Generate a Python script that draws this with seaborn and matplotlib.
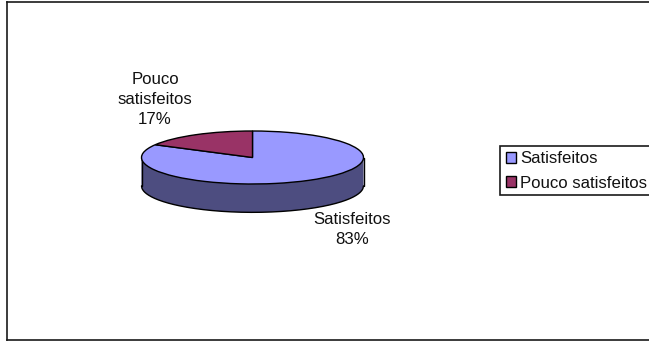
import numpy as np
import matplotlib
matplotlib.use("Agg")
import matplotlib.pyplot as plt
from matplotlib.patches import Rectangle
import seaborn as sns

categories = ["Satisfeitos", "Pouco satisfeitos"]
values = [83, 17]
colors = ["#9999FF", "#993366"]
wall_color = "#4D4D80"
pie_label_lines = ["Satisfeitos\n83%", "Pouco\nsatisfeitos\n17%"]

sns.set_theme(style="white")
plt.rcParams["font.family"] = ["Liberation Sans", "DejaVu Sans"]

W, H = 649, 341
fig = plt.figure(figsize=(W / 100, H / 100), dpi=100, facecolor="white")

# Chart frame (right edge runs off the image)
frame = fig.add_axes([7 / W, 1 - 340 / H, 1.0, 338 / H])
frame.set_xticks([]); frame.set_yticks([])
for s in frame.spines.values():
    s.set_color("#1a1a1a"); s.set_linewidth(1.2)

# Squashed "3D" pie: axes box equals the top ellipse
cx, cy, rx, ry = 252.5, 157.5, 111, 26.5
ax = fig.add_axes([(cx - rx) / W, 1 - (cy + ry) / H, 2 * rx / W, 2 * ry / H])
ax.patch.set_alpha(0)
depth = 1.07
x = np.linspace(-1, 1, 400)
lower = -np.sqrt(1 - x ** 2)
ax.fill_between(x, lower - depth, 0, color=wall_color, ec="none", clip_on=False, zorder=1)
ax.plot(x, lower - depth, color="black", lw=1, clip_on=False, zorder=2)
ax.plot([-1, -1], [0, -depth], color="black", lw=1, clip_on=False, zorder=2)
ax.plot([1, 1], [0, -depth], color="black", lw=1, clip_on=False, zorder=2)
wedges, _ = ax.pie(values, colors=colors, startangle=90, counterclock=False,
                   radius=1, wedgeprops=dict(edgecolor="black", linewidth=1, clip_on=False, zorder=3))
ax.set_aspect("auto")
ax.set_xlim(-1, 1); ax.set_ylim(-1, 1)
ax.axis("off")

# Data labels
fs = 12.1
fig.text(352 / W, 1 - 229.5 / H, pie_label_lines[0], ha="center", va="center",
         fontsize=fs, color="#111111", linespacing=1.38)
fig.text(155 / W, 1 - 99.5 / H, pie_label_lines[1], ha="center", va="center",
         fontsize=fs, color="#111111", linespacing=1.38)

# Legend box (runs off the right edge of the image) and its entries
fig.add_artist(Rectangle((499.5 / W, 1 - 195 / H), 160 / W, 49 / H, transform=fig.transFigure,
                         facecolor="white", edgecolor="#1a1a1a", linewidth=1.2))
leg = fig.legend(wedges, categories, loc="upper left",
                 bbox_to_anchor=(503 / W, 1 - 148 / H), bbox_transform=fig.transFigure,
                 fontsize=fs, frameon=False, borderaxespad=0, borderpad=0.2,
                 handlelength=0.6, handleheight=0.6,
                 handletextpad=0.2, labelspacing=0.55, labelcolor="#111111")

fig.savefig("out.png", dpi=100)
